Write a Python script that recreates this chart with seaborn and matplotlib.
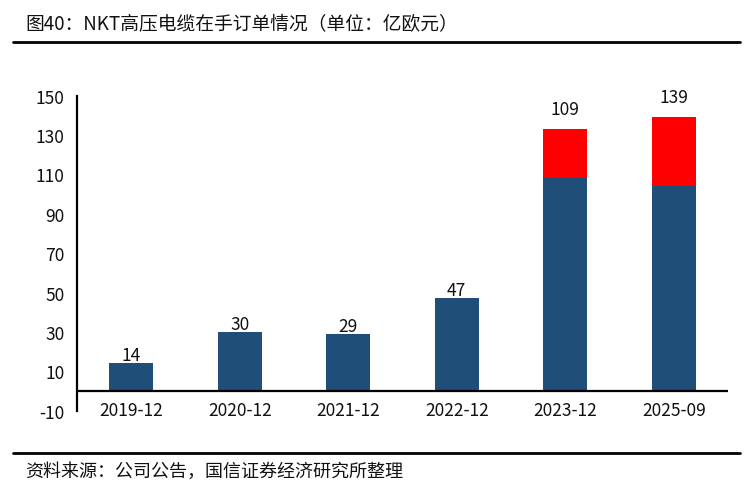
import matplotlib
matplotlib.use("Agg")
import matplotlib.pyplot as plt
import seaborn as sns
import pandas as pd
from matplotlib.lines import Line2D

categories = ["2019-12", "2020-12", "2021-12", "2022-12", "2023-12", "2025-09"]
blue_values = [14, 30, 29, 47, 108, 104]
red_values = [0, 0, 0, 0, 25, 35]
label_values = [14, 30, 29, 47, 109, 139]
y_ticks = [-10, 10, 30, 50, 70, 90, 110, 130, 150]

title = "图40：NKT高压电缆在手订单情况（单位：亿欧元）"
source = "资料来源：公司公告，国信证券经济研究所整理"

sns.set_theme(style="white")
plt.rcParams["font.family"] = ["Noto Sans CJK SC", "DejaVu Sans"]
plt.rcParams["axes.unicode_minus"] = False

df = pd.DataFrame({
    "cat": categories,
    "blue": blue_values,
    "red": red_values,
})
df["total"] = df["blue"] + df["red"]

fig = plt.figure(figsize=(7.56, 4.89), dpi=100)
ax = fig.add_axes([77 / 756, 1 - 411.7 / 489, (728 - 77) / 756, (411.7 - 96.7) / 489])

blue = "#1F4E79"
red = "#FF0000"
sns.barplot(data=df, x="cat", y="total", color=red, saturation=1, width=0.405, ax=ax,
            order=categories, linewidth=0, edgecolor="none")
sns.barplot(data=df, x="cat", y="blue", color=blue, saturation=1, width=0.405, ax=ax,
            order=categories, linewidth=0, edgecolor="none")

ax.set_xlim(-0.5, len(categories) - 0.5)
ax.set_ylim(-10, 150)
ax.set_yticks(y_ticks)
ax.set_xlabel("")
ax.set_ylabel("")
for s in ["top", "right", "bottom"]:
    ax.spines[s].set_visible(False)
ax.spines["left"].set_color("black")
ax.spines["left"].set_linewidth(1.6)
ax.axhline(0, color="black", lw=1.6, zorder=5)
ax.tick_params(axis="y", length=0, pad=9, labelsize=12.5, labelcolor="#111111")
ax.tick_params(axis="x", length=0, pad=-7, labelsize=12.5, labelcolor="#111111")

for i, (tot, r, lab) in enumerate(zip(df["total"], df["red"], label_values)):
    off = 8 if r > 0 else -0.5
    ax.annotate(str(lab), (i, tot), xytext=(0, off), textcoords="offset points",
                ha="center", va="bottom", fontsize=12.5, color="#111111")

fig.text(25 / 756, 1 - 25 / 489, title, ha="left", va="center", fontsize=13.5, color="#111111")
fig.text(25 / 756, 1 - 472 / 489, source, ha="left", va="center", fontsize=13, color="#111111")
fig.add_artist(Line2D([13 / 756, 740 / 756], [1 - 43 / 489, 1 - 43 / 489], color="black", lw=2, transform=fig.transFigure))
fig.add_artist(Line2D([13 / 756, 740 / 756], [1 - 454 / 489, 1 - 454 / 489], color="black", lw=2, transform=fig.transFigure))

fig.savefig("out.png", dpi=100)
